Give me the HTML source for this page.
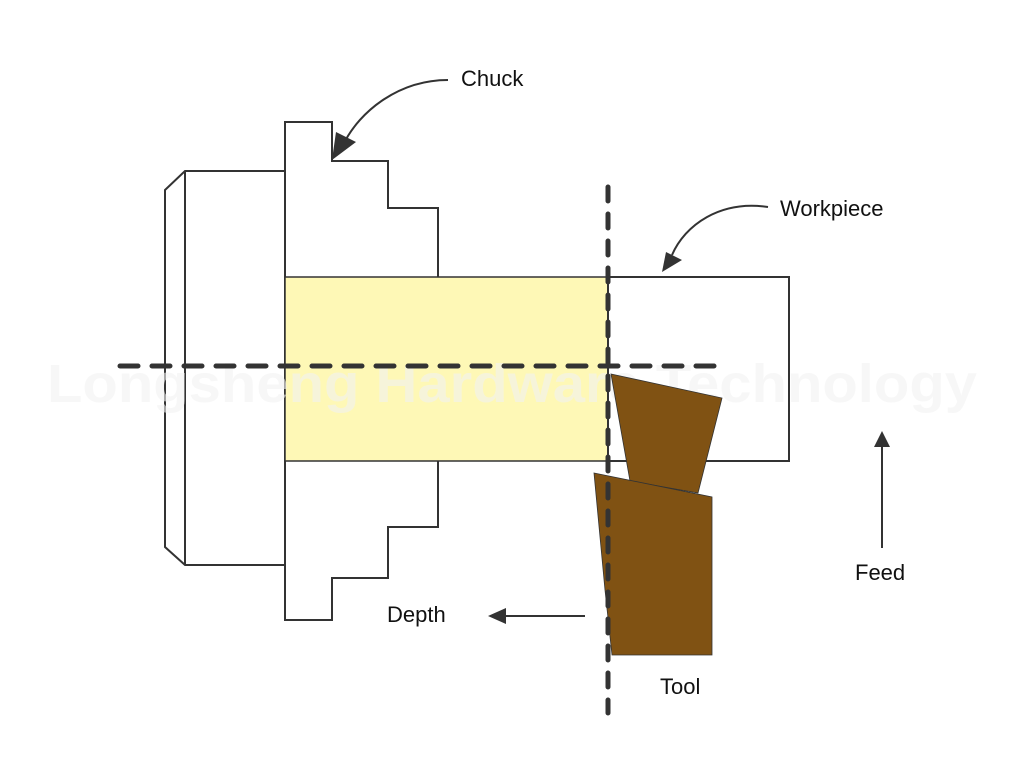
<!DOCTYPE html>
<html><head><style>body{margin:0;background:#fff}svg{display:block}</style></head><body>
<svg width="1027" height="768" viewBox="0 0 1027 768" xmlns="http://www.w3.org/2000/svg" font-family="'Liberation Sans', sans-serif">
<rect width="1027" height="768" fill="#fff"/>
<g fill="none" stroke="#333" stroke-width="2">
<polygon points="165,190 185,171 285,171 285,565 185,565 165,547" fill="#fff"/>
<line x1="185" y1="171" x2="185" y2="565"/>
<polygon points="285,122 332,122 332,161 388,161 388,208 438,208 438,527 388,527 388,578 332,578 332,620 285,620" fill="#fff"/>
<rect x="285" y="277" width="323" height="184" fill="#fef8b6" stroke-width="1.5"/>
<rect x="608" y="277" width="181" height="184" fill="#fff"/>
</g>
<text x="512" y="402" font-size="54" fill="#f2f2f2" text-anchor="middle" font-weight="bold" opacity="0.6" textLength="930" lengthAdjust="spacingAndGlyphs">Longsheng Hardware Technology</text>
<polygon points="611,374 722,398 698,493 630,481" fill="#805213" stroke="#333" stroke-width="0.8"/>
<polygon points="594,473 712,497 712,655 612,655 605,590" fill="#805213" stroke="#333" stroke-width="0.8"/>
<line x1="120" y1="366" x2="720" y2="366" stroke="#333" stroke-width="5" stroke-linecap="round" stroke-dasharray="18,14"/>
<line x1="608" y1="187" x2="608" y2="713" stroke="#333" stroke-width="5" stroke-linecap="round" stroke-dasharray="14,13"/>
<path d="M448,80 C400,80 360,110 343,145" fill="none" stroke="#333" stroke-width="2"/>
<polygon points="332,160 336,132 356,142" fill="#333"/>
<path d="M768,207 C720,200 685,225 672,255" fill="none" stroke="#333" stroke-width="2"/>
<polygon points="662,272 666,252 682,260" fill="#333"/>
<line x1="882" y1="548" x2="882" y2="445" stroke="#333" stroke-width="2"/>
<polygon points="882,431 874,447 890,447" fill="#333"/>
<line x1="585" y1="616" x2="502" y2="616" stroke="#333" stroke-width="2"/>
<polygon points="488,616 506,608 506,624" fill="#333"/>
<g font-size="22" fill="#111">
<text x="461" y="86">Chuck</text>
<text x="780" y="216">Workpiece</text>
<text x="855" y="580">Feed</text>
<text x="387" y="622">Depth</text>
<text x="660" y="694">Tool</text>
</g>
</svg>
</body></html>
